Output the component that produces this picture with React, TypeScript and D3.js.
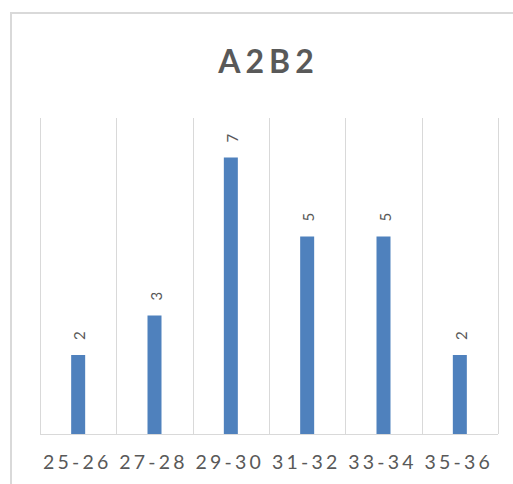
import React from "react";
import * as d3 from "d3";

const categories: string[] = ["25-26", "27-28", "29-30", "31-32", "33-34", "35-36"];
const counts: number[] = [2, 3, 7, 5, 5, 2];
const chartTitle = "A2B2";
const yMax = 8;

const W = 513;
const H = 484;
const plot = { left: 40, right: 498, top: 118, bottom: 434 };

const GRID = "#d9d9d9";
const TEXT = "#595959";
const BAR = "#4f81bd";
const FONT = "Lato, 'Open Sans', sans-serif";

export default function App() {
  const x = d3.scaleBand<string>().domain(categories).range([plot.left, plot.right]).padding(0);
  const y = d3.scaleLinear().domain([0, yMax]).range([plot.bottom, plot.top]);
  const barW = 14;
  const edges = [...categories.map((c) => x(c) as number), plot.right];

  return (
    <svg
      width={W}
      height={H}
      style={{ position: "absolute", left: 0, top: 0, background: "#fff" }}
    >
      <rect x={0} y={0} width={W} height={H} fill="#fff" />
      {/* chart frame */}
      <rect x={11} y={13} width={W + 40} height={H + 40} fill="none" stroke={GRID} strokeWidth={2} />

      <text
        x={266 + 2.5}
        y={73}
        textAnchor="middle"
        fontFamily={FONT}
        fontWeight={700}
        fontSize={32}
        letterSpacing={5}
        fill={TEXT}
      >
        {chartTitle}
      </text>

      {/* vertical gridlines at category boundaries */}
      {edges.map((ex, i) => (
        <line
          key={"g" + i}
          x1={Math.round(ex) + 0.5}
          x2={Math.round(ex) + 0.5}
          y1={plot.top}
          y2={plot.bottom}
          stroke={GRID}
          strokeWidth={1}
        />
      ))}

      {/* bars */}
      {categories.map((c, i) => {
        const cx = (x(c) as number) + x.bandwidth() / 2;
        return (
          <rect
            key={"b" + c}
            x={cx - barW / 2}
            y={y(counts[i])}
            width={barW}
            height={y(0) - y(counts[i])}
            fill={BAR}
          />
        );
      })}

      {/* baseline */}
      <line x1={plot.left} x2={plot.right} y1={plot.bottom + 0.5} y2={plot.bottom + 0.5} stroke={GRID} strokeWidth={1} />

      {/* value labels, rotated */}
      {categories.map((c, i) => {
        const cx = (x(c) as number) + x.bandwidth() / 2 + 1;
        const ty = y(counts[i]) - 15;
        return (
          <text
            key={"v" + c}
            transform={`translate(${cx},${ty}) rotate(-90)`}
            dominantBaseline="central"
            fontFamily={FONT}
            fontSize={15}
            fill={TEXT}
          >
            {counts[i]}
          </text>
        );
      })}

      {/* category labels */}
      {categories.map((c) => {
        const cx = (x(c) as number) + x.bandwidth() / 2;
        return (
          <text
            key={"t" + c}
            x={cx - 1}
            y={469}
            textAnchor="middle"
            fontFamily={FONT}
            fontSize={19.5}
            letterSpacing={3.2}
            fill={TEXT}
          >
            {c}
          </text>
        );
      })}
    </svg>
  );
}
